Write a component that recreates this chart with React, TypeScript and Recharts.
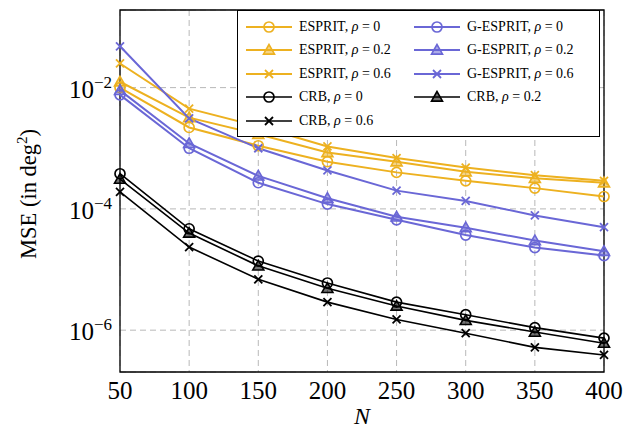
import React from "react"
import { LineChart, Line, XAxis, YAxis, CartesianGrid, ReferenceArea } from "recharts"

const nValues = [50, 100, 150, 200, 250, 300, 350, 400]

const esprit0 = [1.0e-2, 2.2e-3, 1.1e-3, 6.0e-4, 4.0e-4, 2.9e-4, 2.2e-4, 1.6e-4]
const esprit02 = [1.25e-2, 3.2e-3, 1.7e-3, 8.5e-4, 6.0e-4, 4.1e-4, 3.2e-4, 2.7e-4]
const esprit06 = [2.5e-2, 4.5e-3, 2.3e-3, 1.07e-3, 6.9e-4, 4.8e-4, 3.6e-4, 2.9e-4]
const gesprit0 = [7.6e-3, 1.0e-3, 2.7e-4, 1.2e-4, 6.6e-5, 3.7e-5, 2.3e-5, 1.7e-5]
const gesprit02 = [9.0e-3, 1.2e-3, 3.5e-4, 1.5e-4, 7.4e-5, 4.9e-5, 3.0e-5, 2.0e-5]
const gesprit06 = [4.8e-2, 3.1e-3, 1.0e-3, 4.3e-4, 2.0e-4, 1.35e-4, 7.8e-5, 5.0e-5]
const crb0 = [3.8e-4, 4.7e-5, 1.38e-5, 6.0e-6, 2.9e-6, 1.8e-6, 1.1e-6, 7.4e-7]
const crb02 = [3.1e-4, 4.0e-5, 1.15e-5, 4.9e-6, 2.5e-6, 1.45e-6, 9.3e-7, 6.1e-7]
const crb06 = [1.9e-4, 2.35e-5, 6.9e-6, 2.9e-6, 1.5e-6, 8.9e-7, 5.2e-7, 3.9e-7]

const yTicks = [1e-6, 1e-4, 1e-2]
const yDomain = [Math.pow(10, -6.69), Math.pow(10, -0.72)]

const ORANGE = "#EDB120"
const BLUE = "#6A67D6"
const BLACK = "#000"

// legend order is row-major, two columns
const series = [
  { key: "e0", name: "ESPRIT", rho: "0", values: esprit0, color: ORANGE, marker: "circle" },
  { key: "g0", name: "G-ESPRIT", rho: "0", values: gesprit0, color: BLUE, marker: "circle" },
  { key: "e2", name: "ESPRIT", rho: "0.2", values: esprit02, color: ORANGE, marker: "triangle" },
  { key: "g2", name: "G-ESPRIT", rho: "0.2", values: gesprit02, color: BLUE, marker: "triangle" },
  { key: "e6", name: "ESPRIT", rho: "0.6", values: esprit06, color: ORANGE, marker: "cross" },
  { key: "g6", name: "G-ESPRIT", rho: "0.6", values: gesprit06, color: BLUE, marker: "cross" },
  { key: "c0", name: "CRB", rho: "0", values: crb0, color: BLACK, marker: "circle" },
  { key: "c2", name: "CRB", rho: "0.2", values: crb02, color: BLACK, marker: "triangle" },
  { key: "c6", name: "CRB", rho: "0.6", values: crb06, color: BLACK, marker: "cross" },
]

const data = nValues.map((n, i) => {
  const row: any = { n }
  series.forEach(s => { row[s.key] = s.values[i] })
  return row
})

const FONT = "'Liberation Serif', 'DejaVu Serif', serif"

function Marker({ cx, cy, shape, color }: any) {
  if (cx == null || cy == null) return null
  if (shape === "circle")
    return <circle cx={cx} cy={cy} r={5} fill="none" stroke={color} strokeWidth={1.7} />
  if (shape === "triangle") {
    const s = 5.5
    return (
      <polygon
        points={`${cx},${cy - s} ${cx - s},${cy + s * 0.75} ${cx + s},${cy + s * 0.75}`}
        fill={color} fillOpacity={0.55} stroke={color} strokeWidth={1.6}
      />
    )
  }
  const d = 4
  return (
    <g stroke={color} strokeWidth={1.8}>
      <line x1={cx - d} y1={cy - d} x2={cx + d} y2={cy + d} />
      <line x1={cx - d} y1={cy + d} x2={cx + d} y2={cy - d} />
    </g>
  )
}

const YTick = ({ x, y, payload }: any) => {
  const exp = Math.round(Math.log10(payload.value))
  return (
    <text x={x} y={y + 10} textAnchor="end" fontFamily={FONT} fontSize={25} fill="#000">
      <tspan>10</tspan>
      <tspan dy={-10} fontSize={17}>{"\u2212" + Math.abs(exp)}</tspan>
    </text>
  )
}

const XTick = ({ x, y, payload }: any) => (
  <text x={x} y={y + 27} textAnchor="middle" fontFamily={FONT} fontSize={25} fill="#000">
    {payload.value}
  </text>
)

function LegendIcon({ color, marker }: any) {
  return (
    <svg width={46} height={14} style={{ display: "block", flex: "none" }}>
      <line x1={0} y1={7} x2={46} y2={7} stroke={color} strokeWidth={color === BLACK ? 1.6 : 2} />
      <Marker cx={23} cy={7} shape={marker} color={color} />
    </svg>
  )
}

export default function App() {
  return (
    <div style={{ position: "absolute", left: 0, top: 0, width: 625, height: 431, background: "#fff" }}>
      <LineChart width={625} height={431} data={data} margin={{ top: 10, right: 21, bottom: 0, left: 0 }}>
        <CartesianGrid stroke="#b8b8b8" strokeDasharray="6 4" />
        <XAxis
          dataKey="n" type="number" domain={[50, 400]} ticks={nValues}
          height={59} tickSize={0} tickMargin={0} tick={<XTick />}
          axisLine={false} tickLine={false}
          label={{ value: "N", position: "insideBottom", offset: 7, style: { fontFamily: FONT, fontSize: 24, fontStyle: "italic", fill: "#000" } }}
        />
        <YAxis
          type="number" scale="log" domain={yDomain} allowDataOverflow ticks={yTicks}
          width={120} tickSize={0} tickMargin={8} tick={<YTick />}
          axisLine={false} tickLine={false}
          label={{
            content: () => (
              <text x={36} y={194} transform="rotate(-90 36 194)" textAnchor="middle" fontFamily={FONT} fontSize={22.5} fill="#000">
                <tspan>MSE (in deg</tspan>
                <tspan dy={-9} fontSize={15}>2</tspan>
                <tspan dy={9}>)</tspan>
              </text>
            ),
          }}
        />
        <ReferenceArea x1={50} x2={400} y1={yDomain[0]} y2={yDomain[1]} fill="none" stroke="#000" strokeWidth={1.3} ifOverflow="visible" />
        {series.map(s => (
          <Line
            key={s.key}
            dataKey={s.key}
            stroke={s.color}
            strokeWidth={s.color === BLACK ? 1.6 : 2}
            isAnimationActive={false}
            dot={(p: any) => <Marker key={`${s.key}-${p.index}`} cx={p.cx} cy={p.cy} shape={s.marker} color={s.color} />}
            activeDot={false}
          />
        ))}
      </LineChart>
      <div
        style={{
          position: "absolute", left: 237, top: 10, width: 363, height: 127,
          border: "1px solid #000", background: "#fff",
          display: "grid", gridTemplateColumns: "168px 190px", gridAutoRows: "23.5px",
          padding: "4px 0 0 8px", boxSizing: "border-box",
          fontFamily: FONT, fontSize: 14, color: "#000",
        }}
      >
        {series.map(s => (
          <div key={s.key} style={{ display: "flex", alignItems: "center", gap: 7, whiteSpace: "nowrap" }}>
            <LegendIcon color={s.color} marker={s.marker} />
            <span>
              {s.name}, <i>ρ</i> = {s.rho}
            </span>
          </div>
        ))}
      </div>
    </div>
  )
}
